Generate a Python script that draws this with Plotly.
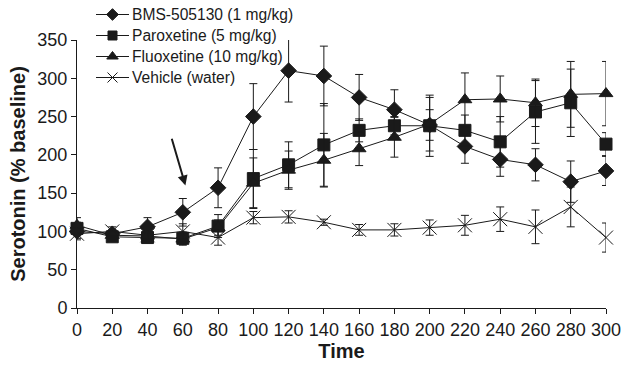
import plotly.graph_objects as go

time = [0, 20, 40, 60, 80, 100, 120, 140, 160, 180, 200, 220, 240, 260, 280, 300]

bms = [100, 97, 106, 125, 157, 250, 310, 303, 275, 259, 239, 211, 194, 187, 165, 179]
bms_err = [9, 5, 12, 18, 26, 43, 41, 39, 30, 26, 20, 22, 22, 21, 27, 19]

parox = [104, 93, 92, 91, 107, 169, 187, 213, 232, 238, 238, 232, 217, 256, 268, 214]
parox_err = [8, 5, 5, 8, 15, 38, 30, 54, 15, 12, 40, 20, 33, 41, 44, 15]

fluox = [108, 95, 94, 90, 105, 163, 180, 193, 208, 223, 240, 272, 273, 268, 279, 280]
fluox_err = [10, 5, 5, 8, 10, 33, 25, 35, 22, 26, 35, 35, 30, 31, 43, 42]

vehicle = [97, 100, 95, 100, 92, 118, 119, 112, 102, 102, 105, 108, 116, 106, 132, 92]
vehicle_err = [8, 6, 6, 10, 10, 8, 8, 4, 7, 8, 10, 13, 16, 22, 26, 19]

names = ["BMS-505130 (1 mg/kg)", "Paroxetine (5 mg/kg)", "Fluoxetine (10 mg/kg)", "Vehicle (water)"]
symbols = ["diamond", "square", "triangle-up", "x-thin-open"]
sizes = [12, 12, 12, 14]
legend_sizes = [9, 9, 10, 10]
series = [bms, parox, fluox, vehicle]
errors = [bms_err, parox_err, fluox_err, vehicle_err]

INK = "#1a1a1a"
FONT = "Liberation Sans, Arial, sans-serif"

W, H = 623, 365
ML, MR, MB = 77, 17, 57
PLOT_TOP = 40                       # pixel row of the top of the data area
PAPER_H = H - MB                    # paper spans pixel rows 0 .. PAPER_H (top margin = 0)
PH = PAPER_H - PLOT_TOP

fig = go.Figure()
for name, sym, sz, ys, err in zip(names, symbols, sizes, series, errors):
    fig.add_trace(go.Scatter(
        x=time, y=ys, name=name, mode="lines+markers", showlegend=False,
        line=dict(color=INK, width=1),
        marker=dict(symbol=sym, size=sz, color=INK, line=dict(color=INK, width=1)),
        error_y=dict(type="data", array=err, visible=True, color=INK, thickness=1, width=4),
        cliponaxis=False,
    ))

# Hand-drawn legend on a hidden pixel-coordinate subplot (compact rows like the original)
LEG_X0, LEG_X1, LEG_TX = 96, 129, 130
LEG_Y0, LEG_DY = 14.5, 21
for i, (name, sym, lsz) in enumerate(zip(names, symbols, legend_sizes)):
    py = LEG_Y0 + i * LEG_DY
    fig.add_trace(go.Scatter(
        x=[LEG_X0, LEG_X1], y=[py, py], xaxis="x2", yaxis="y2", mode="lines",
        showlegend=False, hoverinfo="skip", line=dict(color=INK, width=1),
    ))
    fig.add_trace(go.Scatter(
        x=[(LEG_X0 + LEG_X1) / 2], y=[py], xaxis="x2", yaxis="y2", mode="markers",
        showlegend=False, hoverinfo="skip",
        marker=dict(symbol=sym, size=lsz, color=INK, line=dict(color=INK, width=1)),
    ))
    fig.add_annotation(x=LEG_TX, y=py, xref="x2", yref="y2", text=name,
                       showarrow=False, xanchor="left", yanchor="middle",
                       font=dict(size=15.6, color=INK))

fig.add_annotation(
    x=61.5, y=160, ax=53.5, ay=223, xref="x", yref="y", axref="x", ayref="y",
    showarrow=True, arrowhead=2, arrowsize=1, arrowwidth=2, arrowcolor=INK, text="",
)

fig.update_layout(
    width=W, height=H,
    margin=dict(l=ML, r=MR, t=0, b=MB, autoexpand=False),
    paper_bgcolor="white", plot_bgcolor="rgba(0,0,0,0)",
    font=dict(family=FONT, size=18, color=INK),
    showlegend=False,
    xaxis=dict(
        range=[0, 300], tickmode="array", tickvals=time, ticktext=[str(t) for t in time],
        showline=True, linecolor=INK, linewidth=1, ticks="outside", ticklen=5,
        tickcolor=INK, showgrid=False, zeroline=False, tickfont=dict(size=18),
        title=dict(text="<b>Time</b>", font=dict(size=20), standoff=2),
    ),
    yaxis=dict(
        domain=[0, PH / PAPER_H],
        range=[0, 350], tickvals=[0, 50, 100, 150, 200, 250, 300, 350],
        showline=True, linecolor=INK, linewidth=1, ticks="outside", ticklen=5,
        tickcolor=INK, showgrid=False, zeroline=False, tickfont=dict(size=18),
        title=dict(text="<b>Serotonin (% baseline)</b>", font=dict(size=20), standoff=6),
    ),
    xaxis2=dict(domain=[0, 1], range=[ML, W - MR], anchor="y2", visible=False, fixedrange=True),
    yaxis2=dict(domain=[0, 1], range=[PAPER_H, 0], anchor="x2", visible=False, fixedrange=True),
)

fig.write_html("out.html")
